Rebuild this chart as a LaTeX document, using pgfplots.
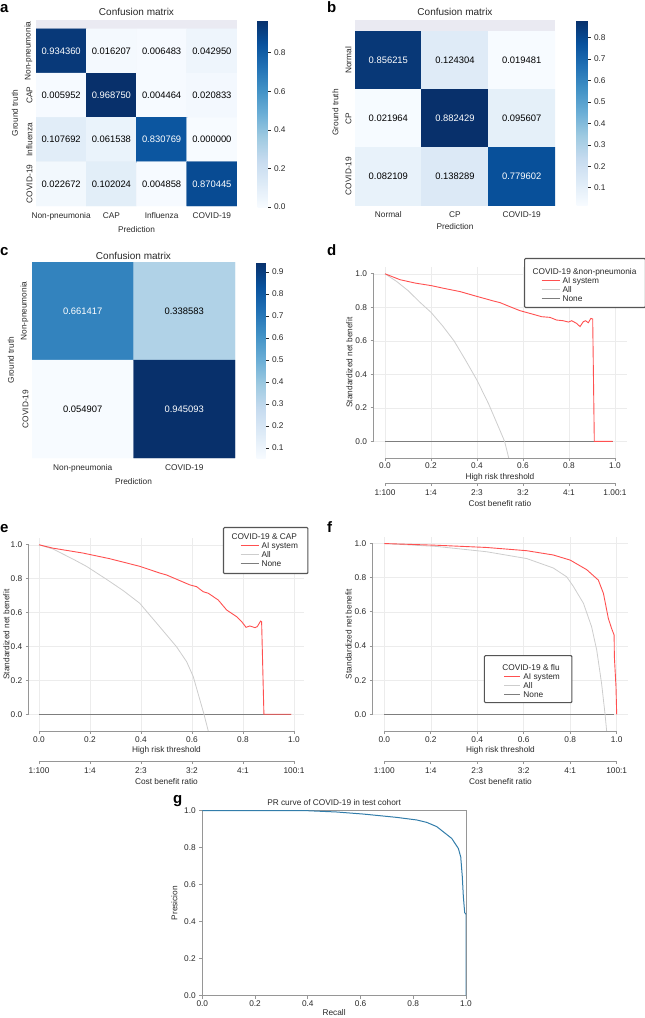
\documentclass[border=0pt]{standalone}
\usepackage{fontspec}
\setmainfont{Liberation Sans}
\usepackage{pgfplots}
\pgfplotsset{compat=1.18}

\definecolor{txt}{RGB}{40,40,40}
\definecolor{seabg}{RGB}{234,234,242}
\definecolor{spine}{RGB}{150,150,150}
\definecolor{gridc}{RGB}{236,236,236}
\definecolor{aired}{RGB}{255,80,80}
\definecolor{allgrey}{RGB}{205,205,205}
\definecolor{nonegrey}{RGB}{125,125,125}
\definecolor{legbox}{RGB}{85,85,85}
\definecolor{prblue}{RGB}{50,125,170}

% legend swatch
\newcommand{\swatch}[2]{\hspace{#1}\textcolor{#2}{\rule[2.3pt]{18pt}{1.4pt}}}

\tikzset{legframe/.style={draw=legbox, line width=1.1pt, rounded corners=1pt,
  fill=white, inner sep=0pt, anchor=north west, text=txt,
  font=\fontsize{8.3}{9}\selectfont}}

\pgfplotsset{
  colormap={blues}{rgb255=(247,251,255) rgb255=(222,235,247) rgb255=(198,219,239)
    rgb255=(158,202,225) rgb255=(107,174,214) rgb255=(66,146,198) rgb255=(33,113,181)
    rgb255=(8,81,156) rgb255=(8,48,107)},
  base/.style={scale only axis, anchor=north west,
    font=\fontsize{8.3}{9.5}\selectfont,
    tick label style={text=txt}, label style={text=txt}, title style={text=txt},
    /pgf/number format/fixed, /pgf/number format/fixed zerofill,
    /pgf/number format/precision=1, /pgf/number format/assume math mode=true},
  cbar/.style={scale only axis, at={(parent axis.north east)}, anchor=north west,
    font=\fontsize{8.3}{9.5}\selectfont, tick label style={text=txt},
    axis line style={draw=none}, ytick pos=right, tick align=outside,
    major tick length=3pt, tick style={draw=txt, line width=0.5pt},
    /pgf/number format/fixed, /pgf/number format/fixed zerofill,
    /pgf/number format/precision=1, /pgf/number format/assume math mode=true},
  heat/.style={base, y dir=reverse, axis line style={draw=none},
    major tick length=0pt, axis background/.style={fill=seabg},
    colormap name=blues, enlargelimits=false,
    title=Confusion matrix,
    title style={font=\fontsize{10}{12}\selectfont, yshift=-5pt},
    xlabel=Prediction, ylabel=Ground truth, xlabel shift=-1pt,
    xticklabel style={yshift=-3pt},
    yticklabel style={rotate=90, anchor=south},
    colorbar, colorbar style={cbar}},
  cell/.style={draw=none, mark=none, nodes near coords, point meta=explicit symbolic,
    every node near coord/.append style={anchor=center,
      font=\fontsize{9.4}{11}\selectfont, text=#1}},
  dca/.style={base, ymin=-0.1, ymax=1.04, axis line style={draw=none},
    clip mode=individual, grid=major, grid style={gridc, line width=0.5pt},
    xtick={0,0.2,0.4,0.6,0.8,1}, ytick={0,0.2,0.4,0.6,0.8,1},
    tick pos=left, tick align=outside, major tick length=3pt,
    tick style={spine, line width=0.8pt},
    xticklabel style={yshift=1.5pt}, xlabel shift=-2.5pt, ylabel shift=-4pt,
    xlabel=High risk threshold, ylabel=Standardized net benefit},
  cost/.style={base, height=1pt, ymin=0, ymax=1, axis line style={draw=none},
    clip mode=individual, ytick=\empty, xtick={0,0.2,0.4,0.6,0.8,1},
    tick pos=left, tick align=outside, major tick length=3pt,
    tick style={spine, line width=0.8pt}, xlabel=Cost benefit ratio,
    xlabel shift=-1.5pt},
}

\begin{document}
\begin{tikzpicture}

% ---------- a ----------
\begin{axis}[heat, at={(36pt,-20pt)}, width=201pt, height=186pt,
  xmin=-0.5, xmax=3.5, ymin=-0.7, ymax=3.5,
  xtick={0,1,2,3}, xticklabels={Non-pneumonia,CAP,Influenza,COVID-19},
  ytick={0,1,2,3}, yticklabels={Non-pneumonia,CAP,Influenza,COVID-19},
  point meta min=0, point meta max=0.96875,
  colorbar style={width=10pt, height=187pt, xshift=12pt, ytick={0,0.2,0.4,0.6,0.8}}]
\addplot[matrix plot*, mesh/cols=4, point meta=explicit] table[meta=c] {
x y c
0 0 0.934360
1 0 0.016207
2 0 0.006483
3 0 0.042950
0 1 0.005952
1 1 0.968750
2 1 0.004464
3 1 0.020833
0 2 0.107692
1 2 0.061538
2 2 0.830769
3 2 0.000000
0 3 0.022672
1 3 0.102024
2 3 0.004858
3 3 0.870445
};
\addplot[cell=white] table[meta=t] {
x y t
0 0 0.934360
1 1 0.968750
2 2 0.830769
3 3 0.870445
};
\addplot[cell=black] table[meta=t] {
x y t
1 0 0.016207
2 0 0.006483
3 0 0.042950
0 1 0.005952
2 1 0.004464
3 1 0.020833
0 2 0.107692
1 2 0.061538
3 2 0.000000
0 3 0.022672
1 3 0.102024
2 3 0.004858
};
\end{axis}

% ---------- b ----------
\begin{axis}[heat, at={(355pt,-20pt)}, width=200pt, height=185pt,
  xmin=-0.5, xmax=2.5, ymin=-0.7, ymax=2.5,
  xtick={0,1,2}, xticklabels={Normal,CP,COVID-19},
  ytick={0,1,2}, yticklabels={Normal,CP,COVID-19},
  point meta min=0.019481, point meta max=0.882429,
  colorbar style={width=11pt, height=185pt, xshift=13pt,
    ytick={0.1,0.2,0.3,0.4,0.5,0.6,0.7,0.8}}]
\addplot[matrix plot*, mesh/cols=3, point meta=explicit] table[meta=c] {
x y c
0 0 0.856215
1 0 0.124304
2 0 0.019481
0 1 0.021964
1 1 0.882429
2 1 0.095607
0 2 0.082109
1 2 0.138289
2 2 0.779602
};
\addplot[cell=white] table[meta=t] {
x y t
0 0 0.856215
1 1 0.882429
2 2 0.779602
};
\addplot[cell=black] table[meta=t] {
x y t
1 0 0.124304
2 0 0.019481
0 1 0.021964
2 1 0.095607
0 2 0.082109
1 2 0.138289
};
\end{axis}

% ---------- c ----------
\begin{axis}[heat, at={(32pt,-262pt)}, width=203pt, height=196pt,
  xmin=-0.5, xmax=1.5, ymin=-0.5, ymax=1.5,
  title style={yshift=-2pt},
  xtick={0,1}, xticklabels={Non-pneumonia,COVID-19},
  ytick={0,1}, yticklabels={Non-pneumonia,COVID-19},
  point meta min=0.054907, point meta max=0.945093,
  colorbar style={width=9pt, height=196pt, xshift=13pt,
    ytick={0.1,0.2,0.3,0.4,0.5,0.6,0.7,0.8,0.9}}]
\addplot[matrix plot*, mesh/cols=2, point meta=explicit] table[meta=c] {
x y c
0 0 0.661417
1 0 0.338583
0 1 0.054907
1 1 0.945093
};
\addplot[cell=white] table[meta=t] {
x y t
0 0 0.661417
1 1 0.945093
};
\addplot[cell=black] table[meta=t] {
x y t
1 0 0.338583
0 1 0.054907
};
\end{axis}

% ---------- d ----------
\begin{axis}[dca, at={(373.5pt,-267.1pt)}, width=253pt, height=191pt,
  xmin=-0.05, xmax=1.05]
\addplot[nonegrey, line width=0.9pt] coordinates {(0,0) (0.99,0)};
\addplot[allgrey, line width=0.8pt] coordinates {
(0,1.0) (0.05,0.955) (0.1,0.9) (0.152,0.83) (0.2,0.77) (0.25,0.69) (0.3,0.6)
(0.35,0.485) (0.4,0.365) (0.45,0.225) (0.5,0.065) (0.52,0) (0.538,-0.1)};
\addplot[aired, line width=0.9pt] coordinates {
(0,1.0) (0.065,0.965) (0.13,0.945) (0.203,0.929) (0.26,0.912) (0.326,0.894)
(0.4,0.865) (0.471,0.838) (0.5,0.828) (0.55,0.8) (0.587,0.78) (0.645,0.758)
(0.681,0.744) (0.717,0.74) (0.746,0.724) (0.775,0.72) (0.797,0.712) (0.812,0.72)
(0.833,0.704) (0.848,0.685) (0.862,0.714) (0.872,0.72) (0.884,0.708) (0.895,0.734)
(0.903,0.73) (0.91,0) (0.99,0)};
\draw[spine, line width=1pt] (axis cs:-0.05,0) -- (axis cs:-0.05,1);
\draw[spine, line width=1pt] (axis cs:0,-0.1) -- (axis cs:1,-0.1);
\node[legframe] at (rel axis cs:0.595,1.048) {%
\begin{tabular}{@{\hspace{8pt}}l@{\hspace{3pt}}l@{\hspace{9pt}}}
\multicolumn{2}{@{\hspace{8pt}}l@{\hspace{9pt}}}{\rule{0pt}{16pt}COVID-19 \&non-pneumonia}\\
\swatch{9pt}{aired} & AI system\\
\swatch{9pt}{allgrey} & All\\
\swatch{9pt}{nonegrey} & None\rule[-6pt]{0pt}{6pt}\\
\end{tabular}};
\end{axis}
\begin{axis}[cost, at={(373.5pt,-482pt)}, width=253pt, xmin=-0.05, xmax=1.05,
  xticklabels={1:100,1:4,2:3,3:2,4:1,1.00:1}]
\draw[spine, line width=1pt] (axis cs:0,0) -- (axis cs:1,0);
\end{axis}

% ---------- e ----------
\begin{axis}[dca, at={(28.8pt,-538pt)}, width=275.4pt, height=193.2pt,
  xmin=-0.04, xmax=1.04, ylabel shift=-5.5pt]
\addplot[nonegrey, line width=0.9pt] coordinates {(0,0) (0.99,0)};
\addplot[allgrey, line width=0.8pt] coordinates {
(0,1.0) (0.055,0.975) (0.134,0.915) (0.186,0.873) (0.264,0.797) (0.33,0.73)
(0.395,0.655) (0.474,0.515) (0.539,0.399) (0.579,0.31) (0.605,0.222) (0.647,0)
(0.664,-0.1)};
\addplot[aired, line width=0.9pt] coordinates {
(0,1.0) (0.055,0.98) (0.173,0.951) (0.277,0.918) (0.395,0.873) (0.474,0.833)
(0.5,0.822) (0.539,0.797) (0.592,0.763) (0.618,0.753) (0.644,0.723) (0.664,0.714)
(0.703,0.674) (0.736,0.615) (0.775,0.576) (0.795,0.546) (0.812,0.513) (0.827,0.521)
(0.847,0.511) (0.856,0.517) (0.869,0.55) (0.873,0.546) (0.882,0) (0.99,0)};
\draw[spine, line width=1pt] (axis cs:-0.04,0) -- (axis cs:-0.04,1);
\draw[spine, line width=1pt] (axis cs:0,-0.1) -- (axis cs:1,-0.1);
\node[legframe] at (rel axis cs:0.705,1.057) {%
\begin{tabular}{@{\hspace{8pt}}l@{\hspace{3pt}}l@{\hspace{10pt}}}
\multicolumn{2}{@{\hspace{8pt}}l@{\hspace{10pt}}}{\rule{0pt}{12pt}COVID-19 \& CAP}\\
\swatch{9pt}{aired} & AI system\\
\swatch{9pt}{allgrey} & All\\
\swatch{9pt}{nonegrey} & None\rule[-7pt]{0pt}{6pt}\\
\end{tabular}};
\end{axis}
\begin{axis}[cost, at={(28.8pt,-760pt)}, width=275.4pt, xmin=-0.04, xmax=1.04,
  xticklabels={1:100,1:4,2:3,3:2,4:1,100:1}]
\draw[spine, line width=1pt] (axis cs:0,0) -- (axis cs:1,0);
\end{axis}

% ---------- f ----------
\begin{axis}[dca, at={(372.7pt,-536.7pt)}, width=255.6pt, height=194.7pt,
  xmin=-0.05, xmax=1.05]
\addplot[nonegrey, line width=0.9pt] coordinates {(0,0) (0.99,0)};
\addplot[allgrey, line width=0.8pt] coordinates {
(0,1.0) (0.225,0.983) (0.44,0.952) (0.613,0.912) (0.727,0.857) (0.785,0.805)
(0.813,0.75) (0.857,0.65) (0.892,0.513) (0.914,0.377) (0.935,0.181) (0.95,0)
(0.957,-0.1)};
\addplot[aired, line width=0.9pt] coordinates {
(0,1.0) (0.225,0.99) (0.44,0.977) (0.613,0.958) (0.727,0.933) (0.8,0.903)
(0.871,0.847) (0.921,0.786) (0.943,0.708) (0.964,0.562) (0.978,0.503) (0.989,0.464)
(0.99,0.338) (0.997,0.162) (1.0,0)};
\draw[spine, line width=1pt] (axis cs:-0.05,0) -- (axis cs:-0.05,1);
\draw[spine, line width=1pt] (axis cs:0,-0.1) -- (axis cs:1,-0.1);
\node[legframe] at (rel axis cs:0.435,0.392) {%
\begin{tabular}{@{\hspace{18pt}}l@{\hspace{3pt}}l@{\hspace{12pt}}}
\multicolumn{2}{@{\hspace{18pt}}l@{\hspace{12pt}}}{\rule{0pt}{15pt}COVID-19 \& flu}\\
\hspace{2pt}\textcolor{aired}{\rule[2.3pt]{16pt}{1.4pt}} & AI system\\
\hspace{2pt}\textcolor{allgrey}{\rule[2.3pt]{16pt}{1.4pt}} & All\\
\hspace{2pt}\textcolor{nonegrey}{\rule[2.3pt]{16pt}{1.4pt}} & None\rule[-5pt]{0pt}{6pt}\\
\end{tabular}};
\end{axis}
\begin{axis}[cost, at={(372.7pt,-760pt)}, width=255.6pt, xmin=-0.05, xmax=1.05,
  xticklabels={1:100,1:4,2:3,3:2,4:1,100:1}]
\draw[spine, line width=1pt] (axis cs:0,0) -- (axis cs:1,0);
\end{axis}

% ---------- g ----------
\begin{axis}[base, at={(202.3pt,-810.7pt)}, width=263.7pt, height=185pt,
  xmin=0, xmax=1, ymin=0, ymax=1,
  axis line style={spine, line width=0.8pt},
  tick pos=left, tick align=outside, major tick length=3pt,
  tick style={spine, line width=0.8pt},
  xtick={0,0.2,0.4,0.6,0.8,1}, ytick={0,0.2,0.4,0.6,0.8,1},
  xticklabel style={yshift=1.5pt}, xlabel shift=-4pt,
  title=PR curve of COVID-19 in test cohort,
  title style={yshift=-4pt},
  xlabel=Recall, ylabel=Presicion]
\addplot[prblue, line width=1pt] coordinates {
(0,1) (0.40,1.0) (0.51,0.993) (0.61,0.982) (0.737,0.964) (0.813,0.95) (0.851,0.937)
(0.889,0.914) (0.914,0.886) (0.946,0.85) (0.971,0.796) (0.98,0.75) (0.986,0.643)
(0.99,0.535) (0.995,0.449) (1.0,0.441) (1.0,0)};
\end{axis}

% panel letters
\begin{scope}[every node/.style={anchor=base west, inner sep=0pt,
    font=\bfseries\fontsize{15}{15}\selectfont}]
\node at (0pt,-12pt) {a};
\node at (327pt,-12pt) {b};
\node at (0pt,-255pt) {c};
\node at (327pt,-255pt) {d};
\node at (0pt,-532pt) {e};
\node at (327pt,-532pt) {f};
\node at (173pt,-803pt) {g};
\end{scope}

\pgfresetboundingbox
\path[use as bounding box] (0pt,0pt) rectangle (645pt,-1018pt);
\end{tikzpicture}
\end{document}
